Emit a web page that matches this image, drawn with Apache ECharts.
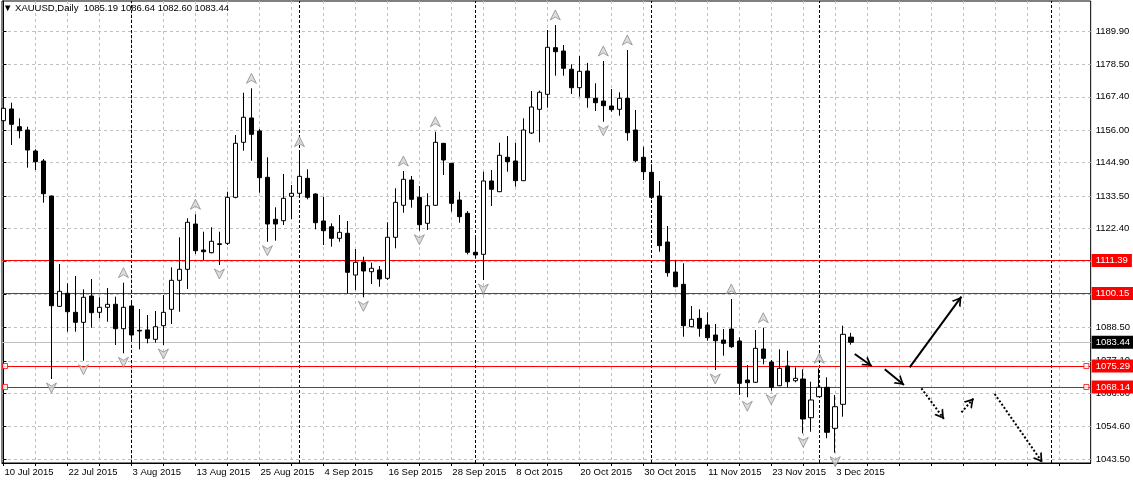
<!DOCTYPE html>
<html><head><meta charset="utf-8">
<script src="https://cdn.jsdelivr.net/npm/echarts@6/dist/echarts.min.js"></script>
<style>html,body{margin:0;padding:0;background:#fff}#c{width:1133px;height:480px}</style>
</head><body><div id="c"></div>
<script>
const symbolName = 'XAUUSD,Daily';
const opens = [1159.21,1163.22,1157.16,1156.03,1148.85,1145.43,1133.46,1095.72,1100.18,1093.67,
1090.25,1099.25,1093.67,1095.38,1096.41,1088.07,1095.83,1087.50,1087.64,1084.44,
1089.10,1094.70,1104.62,1108.38,1123.88,1114.98,1114.07,1117.10,1117.28,1133.00,
1151.83,1160.14,1155.69,1139.85,1125.49,1125.01,1133.35,1134.38,1139.51,1134.14,
1124.91,1122.95,1118.99,1120.70,1106.43,1110.88,1107.56,1108.15,1105.30,1119.33,
1130.28,1138.93,1133.00,1124.12,1130.28,1151.48,1144.64,1132.09,1127.54,1114.20,
1113.51,1138.59,1134.93,1146.70,1145.43,1138.70,1155.00,1163.11,1168.25,1184.20,
1183.05,1176.80,1170.50,1176.21,1166.88,1165.95,1164.24,1163.11,1166.88,1156.03,
1146.70,1141.56,1133.46,1117.72,1107.46,1103.25,1088.75,1091.62,1089.33,1085.91,
1084.20,1087.96,1083.86,1070.51,1069.73,1081.12,1076.67,1068.57,1075.31,1070.28,
1070.86,1057.63,1064.81,1068.02,1053.99,1062.20,1085.19];
const highs = [1165.71,1165.37,1160.03,1157.16,1149.43,1146.11,1133.60,1110.20,1103.60,1106.09,
1101.54,1105.07,1098.81,1102.00,1099.01,1103.80,1097.20,1094.80,1092.75,1094.12,
1099.59,1109.07,1119.33,1125.83,1127.20,1121.24,1122.75,1121.24,1134.93,1154.32,
1168.79,1170.29,1156.37,1146.70,1129.59,1140.98,1137.22,1148.61,1142.59,1134.38,
1133.22,1124.11,1126.96,1124.91,1115.33,1112.70,1110.64,1109.50,1124.46,1136.09,
1142.00,1140.30,1136.88,1134.38,1155.45,1151.60,1144.80,1134.93,1128.30,1119.77,
1141.77,1142.35,1151.69,1153.98,1151.69,1160.03,1169.37,1169.50,1190.24,1191.95,
1185.11,1178.51,1181.35,1179.00,1172.01,1179.63,1170.06,1168.93,1183.40,1162.87,
1150.32,1144.30,1138.59,1123.19,1111.56,1110.44,1095.83,1094.70,1093.67,1089.67,
1087.96,1098.23,1085.12,1075.65,1087.62,1088.41,1077.36,1081.02,1080.54,1074.86,
1074.18,1069.94,1074.52,1071.44,1065.39,1089.09,1086.64];
const lows = [1157.74,1150.90,1153.19,1143.14,1142.35,1131.17,1070.86,1095.50,1087.04,1087.04,
1077.12,1088.40,1091.62,1090.46,1082.49,1079.65,1084.20,1081.00,1083.07,1083.28,
1082.49,1089.67,1093.88,1101.65,1113.62,1111.56,1113.85,1109.86,1116.70,1132.67,
1148.95,1145.53,1134.58,1117.82,1118.17,1123.54,1125.59,1133.80,1132.33,1122.07,
1116.70,1116.13,1117.82,1100.17,1101.30,1098.80,1103.36,1102.43,1104.72,1115.57,
1127.74,1129.46,1121.59,1121.83,1130.10,1140.64,1128.10,1124.33,1113.50,1112.00,
1104.72,1130.04,1134.80,1141.77,1136.65,1138.60,1154.66,1151.83,1163.66,1174.61,
1174.61,1168.35,1167.42,1163.66,1162.53,1158.87,1162.29,1160.92,1152.37,1144.98,
1138.93,1132.40,1114.41,1105.87,1102.20,1085.33,1088.54,1085.33,1083.96,1073.94,
1078.83,1081.50,1065.39,1064.61,1069.50,1075.88,1066.86,1068.40,1068.02,1069.73,
1052.29,1052.83,1064.70,1050.58,1045.65,1057.97,1082.60];
const closes = [1163.45,1157.98,1155.79,1149.19,1145.19,1134.24,1095.93,1100.86,1093.88,1090.25,
1098.81,1093.54,1095.38,1096.41,1088.07,1095.38,1085.91,1087.30,1084.79,1088.75,
1093.67,1104.62,1108.38,1124.46,1114.75,1114.41,1117.97,1116.90,1133.00,1151.48,
1160.38,1154.56,1139.72,1123.88,1123.88,1132.67,1134.38,1140.19,1133.00,1124.33,
1121.59,1118.99,1121.04,1107.36,1110.78,1107.80,1108.73,1105.07,1119.33,1131.30,
1139.17,1132.33,1123.64,1130.14,1151.83,1145.77,1130.96,1126.38,1114.20,1113.30,
1138.59,1135.75,1147.38,1145.19,1138.70,1156.03,1163.90,1168.93,1184.32,1182.82,
1177.14,1170.50,1176.11,1167.08,1165.37,1164.35,1162.98,1166.88,1155.11,1145.53,
1141.77,1133.00,1116.47,1107.22,1102.43,1089.10,1091.28,1088.20,1084.99,1083.96,
1083.07,1081.90,1069.39,1069.60,1081.36,1077.94,1068.02,1074.52,1069.93,1071.10,
1057.18,1063.68,1068.02,1052.63,1061.38,1086.15,1083.44];

const dateTickBars = [0,8,16,24,32,40,48,56,64,72,80,88,96,104];
const dateTickLabels = ['10 Jul 2015','22 Jul 2015','3 Aug 2015','13 Aug 2015','25 Aug 2015','4 Sep 2015',
  '16 Sep 2015','28 Sep 2015','8 Oct 2015','20 Oct 2015','30 Oct 2015','11 Nov 2015','23 Nov 2015','3 Dec 2015'];
const priceTickValues = [1043.5,1054.6,1066.0,1077.1,1088.5,1099.8,1111.1,1122.4,1133.5,1144.9,1156.0,1167.4,1178.5,1189.9];
const gridBars = [0,4,8,12,16,20,24,28,32,36,40,44,48,52,56,60,64,68,72,76,80,84,88,92,96,100,104,108,112,116,120,124,128,132];
const separatorBars = [16,37,59,81,102,131];
const levelLines = [1111.39,1100.15,1075.29,1068.14];
const anchoredLevels = [1075.29,1068.14];
const anchorBars = [0.19,135.4];
const fractalUpBars = [15,24,31,37,50,54,69,75,78,91,95,102];
const fractalDownBars = [6,10,15,20,27,33,45,52,60,75,89,93,96,100,104];
const solidArrows = [[106.44,1079.41,108.56,1075.31],[110.19,1074.18,112.60,1068.81],[113.30,1074.87,119.78,1099.02]];
const dottedArrows = [[114.77,1067.68,117.60,1057.18],[119.78,1059.47,121.31,1064.26],[123.94,1065.73,129.90,1042.30]];

const FONT = 'Liberation Sans';
const FS = 9.5;
const last = opens.length - 1;
const bid = closes[last];
const chevron = 'path://M0,10 L5,0 L10,10 L8.2,10 L5,3.6 L1.8,10 Z';
const fracUp = 'path://M5,0 L10,10 L5,7 L0,10 Z';
const fracDown = 'path://M0,0 L5,3 L10,0 L5,10 Z';

const candleData = opens.map((o, i) => [i, o, closes[i], lows[i], highs[i]]);

function arrowItems(list, dashed) {
  return list.map(a => [
    {coord: [a[0], a[1]], symbol: 'none',
     lineStyle: {color: '#000', width: 2, type: dashed ? [2, 2] : 'solid'}},
    {coord: [a[2], a[3]], symbol: chevron, symbolSize: [11, 9], symbolOffset: [0, 4.5]}
  ]);
}

const chart = echarts.init(document.getElementById('c'), null, {renderer: 'canvas'});
chart.setOption({
  animation: false,
  backgroundColor: '#fff',
  textStyle: {fontFamily: FONT},
  title: {
    text: '\u25BC ' + symbolName + '  ' + [opens[last], highs[last], lows[last], closes[last]].map(v => v.toFixed(2)).join(' '),
    left: 3, top: 3, padding: 0,
    textStyle: {fontSize: FS, fontWeight: 'normal', color: '#000', fontFamily: FONT}
  },
  grid: {left: 2, right: 42, top: 1, bottom: 17, show: true, borderColor: '#000', borderWidth: 1, backgroundColor: 'transparent'},
  xAxis: {
    type: 'value', min: -0.1875, max: 135.9375,
    axisLine: {show: true, lineStyle: {color: '#000', width: 1}},
    axisTick: {show: true, customValues: gridBars, length: 3, lineStyle: {color: '#000'}},
    splitLine: {show: true, lineStyle: {color: '#c0c0c0', type: [3, 3], width: 1}},
    axisLabel: {customValues: dateTickBars, formatter: v => dateTickLabels[dateTickBars.indexOf(v)] || '',
      align: 'left', margin: 4, color: '#000', fontSize: FS, fontFamily: FONT, padding: [0, 0, 0, 1]}
  },
  yAxis: {
    type: 'value', position: 'right', min: 1042.13, max: 1200.16,
    axisLine: {show: true, lineStyle: {color: '#000', width: 1}},
    axisTick: {show: true, customValues: priceTickValues, length: 3, lineStyle: {color: '#000'}},
    splitLine: {show: true, lineStyle: {color: '#c0c0c0', type: [3, 3], width: 1}},
    axisLabel: {customValues: priceTickValues, formatter: v => v.toFixed(2), margin: 5, color: '#000', fontSize: FS, fontFamily: FONT}
  },
  series: [
    {
      type: 'line', data: [], silent: true, z: 1,
      markLine: {
        silent: true, symbol: ['none', 'none'], z: 1, animation: false,
        data: [
          ...separatorBars.map(b => ({xAxis: b, lineStyle: {color: '#000', type: [3, 2], width: 1}, label: {show: false}})),
          {yAxis: bid, lineStyle: {color: '#c0c0c0', type: 'solid', width: 1},
           label: {show: true, position: 'end', distance: 1, formatter: p => p.value.toFixed(2), color: '#fff', backgroundColor: '#000',
             padding: [2, 4, 1, 4], fontSize: FS, fontFamily: FONT}},
          ...levelLines.map(v => ({yAxis: v, lineStyle: {color: '#ff0000', type: 'solid', width: 1},
           label: {show: true, position: 'end', distance: 1, formatter: p => p.value.toFixed(2), color: '#fff', backgroundColor: '#ff0000',
             padding: [2, 4, 1, 4], fontSize: FS, fontFamily: FONT}}))
        ]
      }
    },
    {
      type: 'candlestick', z: 3, barWidth: 5,
      data: candleData,
      itemStyle: {color: '#fff', color0: '#000', borderColor: '#000', borderColor0: '#000', borderWidth: 1},
      silent: true
    },
    {
      type: 'scatter', z: 4, silent: true,
      data: fractalUpBars.map(i => [i, highs[i]]),
      symbol: fracUp, symbolSize: [10, 10], symbolOffset: [0, -10],
      itemStyle: {color: '#d4d4d4', borderColor: '#8c8c8c', borderWidth: 1}
    },
    {
      type: 'scatter', z: 4, silent: true,
      data: fractalDownBars.map(i => [i, lows[i]]),
      symbol: fracDown, symbolSize: [10, 10], symbolOffset: [0, 9],
      itemStyle: {color: '#d4d4d4', borderColor: '#8c8c8c', borderWidth: 1}
    },
    {
      type: 'scatter', z: 4, silent: true,
      data: anchoredLevels.flatMap(v => anchorBars.map(b => [b, v])),
      symbol: 'rect', symbolSize: 5,
      itemStyle: {color: '#fff', borderColor: '#ff0000', borderWidth: 1}
    },
    {
      type: 'line', data: [], silent: true, z: 5,
      markLine: {
        silent: true, symbol: ['none', 'none'], z: 5, animation: false,
        label: {show: false},
        lineStyle: {color: '#000', width: 2},
        data: [...arrowItems(solidArrows, false), ...arrowItems(dottedArrows, true)]
      }
    }
  ]
});
</script></body></html>
